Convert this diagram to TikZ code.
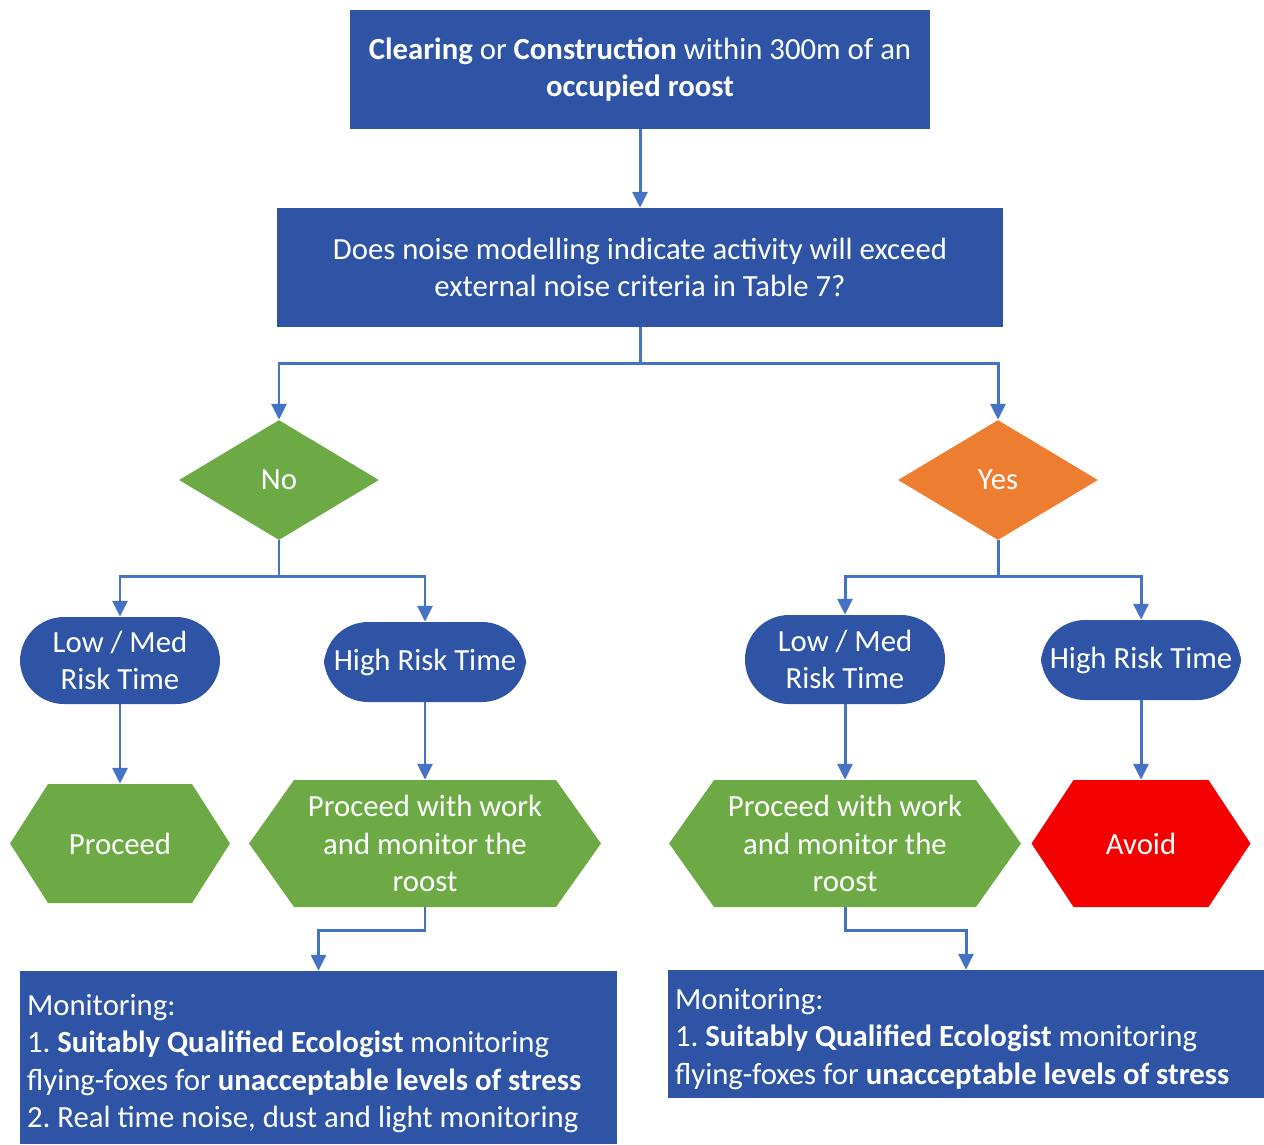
\documentclass[tikz,border=0pt]{standalone}
\usepackage{fontspec}
\setmainfont{Carlito}
\usetikzlibrary{shapes.geometric,arrows.meta}
\definecolor{boxblue}{HTML}{2F54A6}
\definecolor{lineblue}{HTML}{4472C4}
\definecolor{okgreen}{HTML}{6DAA45}
\definecolor{yesorange}{HTML}{ED7D31}
\definecolor{avoidred}{HTML}{F50000}
\begin{document}
\begin{tikzpicture}[x=0.02cm,y=-0.02cm,
  every node/.style={text=white,font=\fontsize{17.5pt}{21.3pt}\selectfont\frenchspacing,inner sep=0pt,align=center},
  bluebox/.style n args={2}{rectangle,fill=boxblue,minimum width=#1*0.2mm,minimum height=#2*0.2mm},
  decision/.style={diamond,fill=#1,minimum width=40mm,minimum height=24mm},
  stadium/.style n args={2}{rectangle,fill=boxblue,rounded corners=8.8mm,minimum width=#1*0.2mm,minimum height=#2*0.2mm},
  hexbox/.style n args={4}{rectangle,minimum width=#2*0.2mm,minimum height=#3*0.2mm,
    path picture={\fill[#1] ([xshift=#4*0.2mm]path picture bounding box.north west) -- ([xshift=-#4*0.2mm]path picture bounding box.north east) -- (path picture bounding box.east) -- ([xshift=-#4*0.2mm]path picture bounding box.south east) -- ([xshift=#4*0.2mm]path picture bounding box.south west) -- (path picture bounding box.west) -- cycle;}},
  conn/.style={draw=lineblue,line width=1.7pt,-{Triangle[width=8.5pt,length=9pt]}},
  plain/.style={draw=lineblue,line width=1.7pt}
]
\useasboundingbox (0,0) rectangle (1264,1144);

\node[bluebox={580}{119}] (top) at (640,69.5) {\textbf{Clearing} or \textbf{Construction} within 300m of an\\\textbf{occupied roost}};
\node[bluebox={726}{119}] (q) at (640,267.5) {Does noise modelling indicate activity will exceed\\external noise criteria in Table 7?};

\node[decision=okgreen] (no) at (279,480) {No};
\node[decision=yesorange] (yes) at (998,480) {Yes};

\node[stadium={200}{87}] (lml) at (120,660.5) {Low / Med\\Risk Time};
\node[stadium={202}{80}] (hrl) at (425,662) {High Risk Time};
\node[stadium={200}{89}] (lmr) at (845,659.5) {Low / Med\\Risk Time};
\node[stadium={200}{80}] (hrr) at (1141,660) {High Risk Time};

\node[hexbox={okgreen}{220}{119}{38}] (proc) at (120,843.5) {Proceed};
\node[hexbox={okgreen}{352}{127}{45}] (pwl) at (425,843.5) {Proceed with work\\and monitor the\\roost};
\node[hexbox={okgreen}{352}{127}{45}] (pwr) at (845,843.5) {Proceed with work\\and monitor the\\roost};
\node[hexbox={avoidred}{219}{127}{42}] (avoid) at (1141,843.5) {Avoid};

\node[bluebox={597}{173},align=flush left,text width=583*0.2mm] (monl) at (318.5,1057.5) {\rule{0pt}{18.7pt}Monitoring:\\1. \textbf{Suitably Qualified Ecologist} monitoring\\flying-foxes for \textbf{unacceptable levels of stress}\\2. Real time noise, dust and light monitoring};
\node[bluebox={596}{128},align=flush left,text width=582*0.2mm] (monr) at (966,1034) {\rule{0pt}{17.5pt}Monitoring:\\1. \textbf{Suitably Qualified Ecologist} monitoring\\flying-foxes for \textbf{unacceptable levels of stress}};

\draw[conn] (top) -- (q);
\draw[plain] (q.south) -- ++(0,36) coordinate (qb);
\draw[conn] (qb) -| (no.north);
\draw[conn] (qb) -| (yes.north);

\draw[plain] (no.south) -- ++(0,36) coordinate (nb);
\draw[conn] (nb) -| (lml.north);
\draw[conn] (nb) -| (hrl.north);
\draw[plain] (yes.south) -- ++(0,36) coordinate (yb);
\draw[conn] (yb) -| (lmr.north);
\draw[conn] (yb) -| (hrr.north);

\draw[conn] (lml) -- (proc);
\draw[conn] (hrl) -- (pwl);
\draw[conn] (lmr) -- (pwr);
\draw[conn] (hrr) -- (avoid);

\draw[conn] (pwl.south) -- ++(0,23) -| (monl.north);
\draw[conn] (pwr.south) -- ++(0,23) -| (monr.north);
\end{tikzpicture}
\end{document}
